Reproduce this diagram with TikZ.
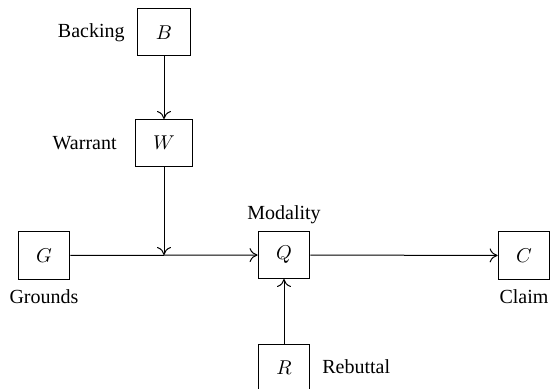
\documentclass[tikz,border=0pt]{standalone}
\usepackage{fontspec}
\setmainfont{Liberation Serif}
\usetikzlibrary{arrows.meta}
\begin{document}
\begin{tikzpicture}[x=0.5pt,y=-0.5pt,
  termbox/.style={draw, line width=0.5pt, inner xsep=9pt, inner ysep=0pt,
                  minimum width=25pt, minimum height=23.5pt},
  lbl/.style={font=\normalsize, inner sep=0pt},
  link/.style={-{To[length=4pt,width=7pt]}, line width=0.5pt}]
  \useasboundingbox (0,0) rectangle (550,389);

  % Toulmin elements
  \node[termbox] (B) at (164,32.5) {$B$};
  \node[termbox] (W) at (164,143) {$W$};
  \node[termbox] (G) at (44,255.5) {$G$};
  \node[termbox] (Q) at (284,255) {$Q$};
  \node[termbox] (C) at (524,255.5) {$C$};
  \node[termbox] (R) at (284,367.5) {$R$};

  % Labels
  \node[lbl, anchor=east] (lB) at (125,33) {Backing};
  \node[lbl, anchor=east] (lW) at (117,143) {Warrant};
  \node[lbl] (lG) at (44,297) {Grounds};
  \node[lbl] (lQ) at (284,215) {Modality};
  \node[lbl] (lC) at (524,297) {Claim};
  \node[lbl, anchor=west] (lR) at (322,367) {Rebuttal};

  % Junction where the warrant meets the grounds line
  \coordinate (j) at (164,255);

  % Connectors
  \draw[link] (B) -- (W);
  \draw[link] (W) -- (j);
  \draw[link] (G) -- (Q);
  \draw[link] (Q) -- (C);
  \draw[link] (R) -- (Q);
\end{tikzpicture}
\end{document}
